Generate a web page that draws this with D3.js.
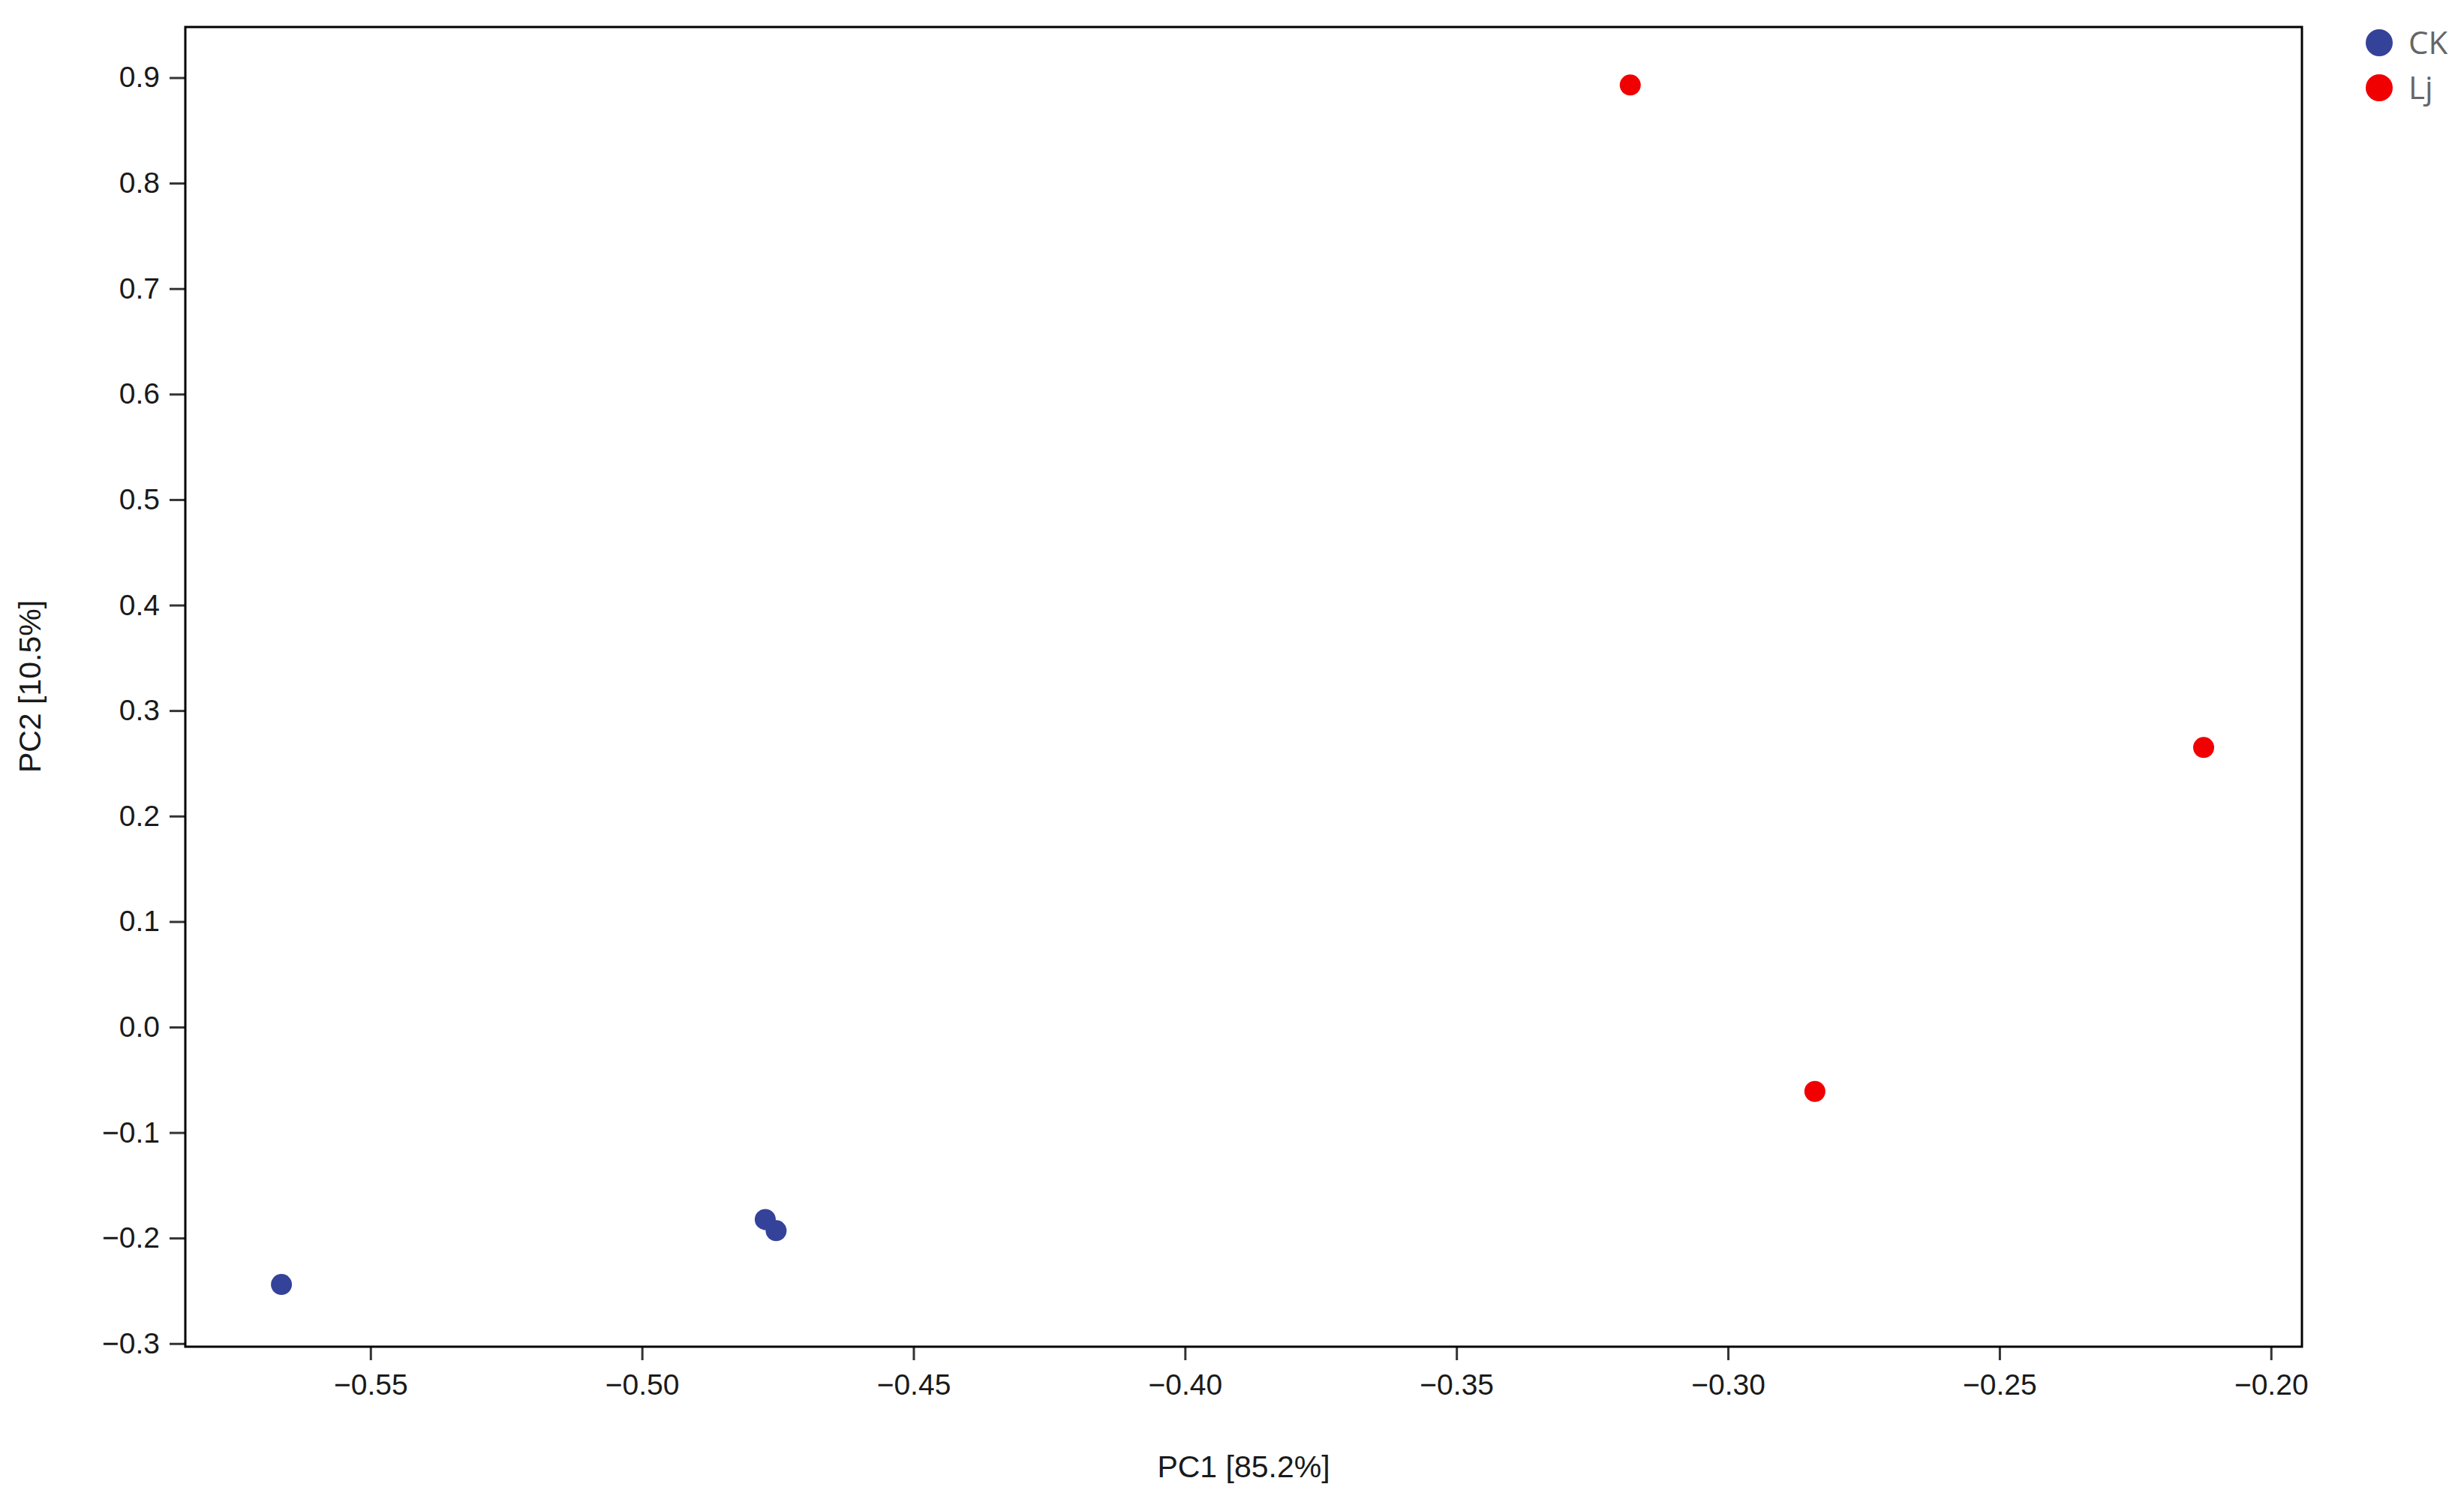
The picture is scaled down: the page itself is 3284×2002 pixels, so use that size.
<!DOCTYPE html>
<html>
<head>
<meta charset="utf-8">
<script src="https://cdn.jsdelivr.net/npm/d3@7"></script>
<style>
  html, body { margin: 0; padding: 0; background: #fff; }
  svg { display: block; }
</style>
</head>
<body>
<script>
// ---- data ----
const groups = ["CK", "Lj"];
const groupColors = ["#34429a", "#f00000"];
const sampleGroup = ["CK", "CK", "CK", "Lj", "Lj", "Lj"];
const pc1Values = [-0.5664, -0.4773, -0.4753, -0.318, -0.2124, -0.284];
const pc2Values = [-0.244, -0.1824, -0.193, 0.893, 0.265, -0.061];
const xTickValues = [-0.55, -0.50, -0.45, -0.40, -0.35, -0.30, -0.25, -0.20];
const yTickValues = [-0.3, -0.2, -0.1, 0.0, 0.1, 0.2, 0.3, 0.4, 0.5, 0.6, 0.7, 0.8, 0.9];
const xLabel = "PC1 [85.2%]";
const yLabel = "PC2 [10.5%]";

const W = 3284, H = 2002;
const plot = { left: 247, right: 3068, top: 36, bottom: 1795 };

const svg = d3.select("body").append("svg").attr("width", W).attr("height", H);
svg.append("rect").attr("width", W).attr("height", H).attr("fill", "#fff");

const x = d3.scaleLinear().domain([-0.5841, -0.1943]).range([plot.left, plot.right]);
const y = d3.scaleLinear().domain([-0.303, 0.948]).range([plot.bottom, plot.top]);
const color = d3.scaleOrdinal().domain(groups).range(groupColors);

const font = "'Liberation Sans', Arial, sans-serif";

// axes
const xAxis = d3.axisBottom(x).tickValues(xTickValues).tickFormat(d3.format(".2f"))
  .tickSize(18).tickSizeOuter(0).tickPadding(18);
const yAxis = d3.axisLeft(y).tickValues(yTickValues).tickFormat(d3.format(".1f"))
  .tickSize(21).tickSizeOuter(0).tickPadding(13);

const gx = svg.append("g").attr("transform", `translate(0,${plot.bottom})`).call(xAxis);
const gy = svg.append("g").attr("transform", `translate(${plot.left},0)`).call(yAxis);
[gx, gy].forEach(g => {
  g.select(".domain").remove();
  g.selectAll(".tick line").attr("stroke", "#333").attr("stroke-width", 3);
  g.selectAll(".tick text").attr("fill", "#1a1a1a").style("font-family", font).style("font-size", "39px");
});

// frame
svg.append("rect")
  .attr("x", plot.left).attr("y", plot.top)
  .attr("width", plot.right - plot.left).attr("height", plot.bottom - plot.top)
  .attr("fill", "none").attr("stroke", "#000").attr("stroke-width", 3);

// points
const pts = pc1Values.map((v, i) => ({ x: v, y: pc2Values[i], g: sampleGroup[i] }));
svg.append("g").selectAll("circle").data(pts).join("circle")
  .attr("cx", d => x(d.x)).attr("cy", d => y(d.y)).attr("r", 14)
  .attr("fill", d => color(d.g));

// axis titles
svg.append("text").attr("x", (plot.left + plot.right) / 2).attr("y", 1955).attr("dy", "0.35em")
  .attr("text-anchor", "middle").attr("fill", "#1a1a1a")
  .style("font-family", font).style("font-size", "41px").text(xLabel);
svg.append("text").attr("transform", `translate(40,915) rotate(-90)`).attr("dy", "0.35em")
  .attr("text-anchor", "middle").attr("fill", "#1a1a1a")
  .style("font-family", font).style("font-size", "41px").text(yLabel);

// legend
const lg = svg.append("g").selectAll("g").data(groups).join("g")
  .attr("transform", (d, i) => `translate(3171,${57 + i * 60})`);
lg.append("circle").attr("r", 18).attr("fill", d => color(d));
lg.append("text").attr("x", 39).attr("dy", "0.36em").attr("fill", "#666")
  .style("font-family", "'Open Sans', 'Liberation Sans', sans-serif").style("font-size", "42px")
  .text(d => d);
</script>
</body>
</html>
